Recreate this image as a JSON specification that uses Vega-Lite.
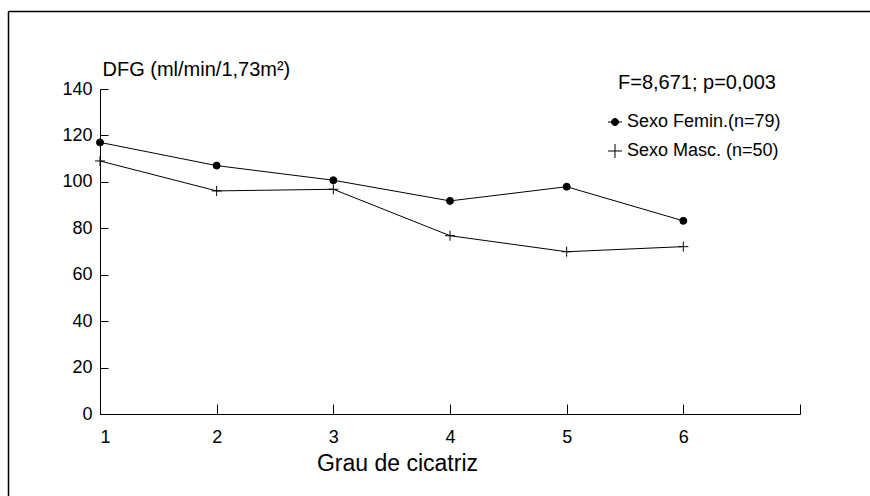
{
  "$schema": "https://vega.github.io/schema/vega-lite/v6.json",
  "width": 862,
  "height": 485,
  "autosize": {"type": "none"},
  "padding": {"left": 8, "top": 11, "right": 0, "bottom": 0},
  "background": "white",
  "config": {
    "font": "Liberation Sans",
    "view": {"stroke": null},
    "axis": {
      "grid": false,
      "domainColor": "black",
      "domainWidth": 1,
      "tickColor": "black",
      "tickWidth": 1,
      "labelColor": "black",
      "labelFont": "Liberation Sans",
      "labelFontSize": 18,
      "titleColor": "black",
      "titleFont": "Liberation Sans",
      "titleFontSize": 20,
      "titleFontWeight": "normal"
    }
  },
  "title": {
    "text": "F=8,671; p=0,003",
    "anchor": "start",
    "frame": "group",
    "orient": "top",
    "offset": 0,
    "dx": 610,
    "dy": 98,
    "baseline": "alphabetic",
    "font": "Liberation Sans",
    "fontSize": 20,
    "fontWeight": "normal",
    "color": "black"
  },
  "data": {
    "values": [
      {"grau": 1, "dfg": 117.0, "sexo": "Sexo Femin.(n=79)"},
      {"grau": 2, "dfg": 107.0, "sexo": "Sexo Femin.(n=79)"},
      {"grau": 3, "dfg": 100.7, "sexo": "Sexo Femin.(n=79)"},
      {"grau": 4, "dfg": 91.8, "sexo": "Sexo Femin.(n=79)"},
      {"grau": 5, "dfg": 97.9, "sexo": "Sexo Femin.(n=79)"},
      {"grau": 6, "dfg": 83.2, "sexo": "Sexo Femin.(n=79)"},
      {"grau": 1, "dfg": 109.0, "sexo": "Sexo Masc. (n=50)"},
      {"grau": 2, "dfg": 96.1, "sexo": "Sexo Masc. (n=50)"},
      {"grau": 3, "dfg": 96.8, "sexo": "Sexo Masc. (n=50)"},
      {"grau": 4, "dfg": 76.8, "sexo": "Sexo Masc. (n=50)"},
      {"grau": 5, "dfg": 69.9, "sexo": "Sexo Masc. (n=50)"},
      {"grau": 6, "dfg": 72.1, "sexo": "Sexo Masc. (n=50)"}
    ]
  },
  "encoding": {
    "x": {
      "field": "grau",
      "type": "quantitative",
      "scale": {"domain": [1, 7], "range": [92, 792], "nice": false, "zero": false},
      "axis": {
        "title": "Grau de cicatriz",
        "titleFontSize": 23,
        "values": [1, 2, 3, 4, 5, 6, 7],
        "labelExpr": "datum.value == 7 ? '' : datum.label",
        "offset": -82,
        "tickSize": -10,
        "labelPadding": 38,
        "labelBaseline": "alphabetic",
        "titleX": 389,
        "titleY": 56,
        "titleAlign": "center",
        "titleBaseline": "alphabetic"
      }
    },
    "y": {
      "field": "dfg",
      "type": "quantitative",
      "scale": {"domain": [0, 140], "range": [403, 78], "nice": false},
      "axis": {
        "title": "DFG (ml/min/1,73m²)",
        "values": [0, 20, 40, 60, 80, 100, 120, 140],
        "offset": -92,
        "tickSize": -8,
        "labelPadding": 16,
        "titleAngle": 0,
        "titleX": 2,
        "titleY": 64,
        "titleAlign": "left",
        "titleBaseline": "alphabetic"
      }
    }
  },
  "layer": [
    {
      "layer": [
        {
          "mark": {"type": "line", "color": "black", "strokeWidth": 1},
          "encoding": {"detail": {"field": "sexo", "type": "nominal"}}
        },
        {
          "mark": {"type": "point", "filled": true, "color": "black", "stroke": "black", "strokeWidth": 1, "opacity": 1, "size": 49},
          "encoding": {
            "shape": {
              "field": "sexo",
              "type": "nominal",
              "scale": {
                "domain": ["Sexo Femin.(n=79)", "Sexo Masc. (n=50)"],
                "range": ["circle", "M-1.43,0H1.43M0,-1.43V1.43"]
              },
              "legend": null
            }
          }
        }
      ]
    },
    {
      "mark": {"type": "point", "filled": true, "color": "black", "stroke": "black", "strokeWidth": 1, "opacity": 0, "size": 49},
      "encoding": {
        "x": {
          "field": "grau",
          "type": "quantitative",
          "scale": {"domain": [1, 7], "range": [0, 862], "nice": false, "zero": false},
          "axis": {
            "orient": "top",
            "offset": 0,
            "title": null,
            "labels": false,
            "ticks": false,
            "grid": false,
            "domain": true,
            "domainColor": "black",
            "domainWidth": 1.5
          }
        },
        "y": {
          "field": "dfg",
          "type": "quantitative",
          "scale": {"domain": [0, 140], "range": [485, 0], "nice": false},
          "axis": {
            "orient": "left",
            "offset": 0,
            "title": null,
            "labels": false,
            "ticks": false,
            "grid": false,
            "domain": true,
            "domainColor": "black",
            "domainWidth": 1.5
          }
        },
        "shape": {
          "field": "sexo",
          "type": "nominal",
          "scale": {
            "domain": ["Sexo Femin.(n=79)", "Sexo Masc. (n=50)"],
            "range": ["M-1,0H1M0.5,0A0.5,0.5,0,1,1,-0.5,0A0.5,0.5,0,1,1,0.5,0Z", "M-1,0H1M0,-1V1"]
          },
          "legend": {
            "title": null,
            "orient": "none",
            "legendX": 598,
            "legendY": 102,
            "padding": 0,
            "symbolSize": 196,
            "labelFont": "Liberation Sans",
            "labelFontSize": 18,
            "labelColor": "black",
            "labelOffset": 3,
            "rowPadding": 11,
            "encoding": {
              "symbols": {
                "fill": {"value": "black"},
                "stroke": {"value": "black"},
                "strokeWidth": {"value": 1},
                "opacity": {"value": 1}
              }
            }
          }
        }
      }
    }
  ],
  "resolve": {
    "scale": {"shape": "independent", "x": "independent", "y": "independent"},
    "axis": {"x": "independent", "y": "independent"},
    "legend": {"shape": "independent"}
  }
}
